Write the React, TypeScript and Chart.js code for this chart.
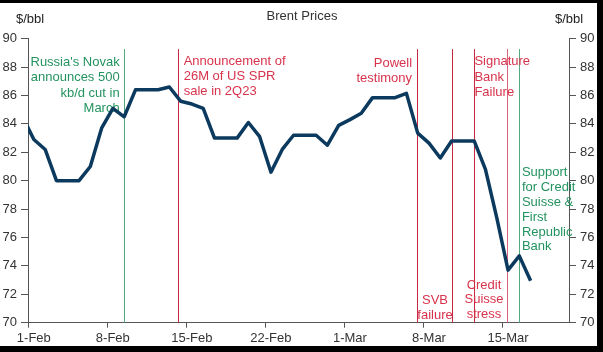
import React, { useEffect, useRef } from "react";
import { Chart, registerables } from "chart.js";

Chart.register(...registerables);

// ---- data ----
const dates = [
  "2023-01-31", "2023-02-01", "2023-02-02", "2023-02-03", "2023-02-04", "2023-02-05",
  "2023-02-06", "2023-02-07", "2023-02-08", "2023-02-09", "2023-02-10", "2023-02-11",
  "2023-02-12", "2023-02-13", "2023-02-14", "2023-02-15", "2023-02-16", "2023-02-17",
  "2023-02-18", "2023-02-19", "2023-02-20", "2023-02-21", "2023-02-22", "2023-02-23",
  "2023-02-24", "2023-02-25", "2023-02-26", "2023-02-27", "2023-02-28", "2023-03-01",
  "2023-03-02", "2023-03-03", "2023-03-04", "2023-03-05", "2023-03-06", "2023-03-07",
  "2023-03-08", "2023-03-09", "2023-03-10", "2023-03-11", "2023-03-12", "2023-03-13",
  "2023-03-14", "2023-03-15", "2023-03-16", "2023-03-17",
];
const brent = [
  84.5, 82.9, 82.2, 80.0, 80.0, 80.0,
  81.0, 83.7, 85.1, 84.5, 86.4, 86.4,
  86.4, 86.6, 85.6, 85.4, 85.1, 83.0,
  83.0, 83.0, 84.1, 83.1, 80.6, 82.2,
  83.2, 83.2, 83.2, 82.5, 83.9, 84.3,
  84.75, 85.85, 85.85, 85.85, 86.15, 83.35,
  82.65, 81.6, 82.8, 82.8, 82.8, 80.8,
  77.4, 73.7, 74.7, 72.95,
];
const tickDates = ["2023-02-01", "2023-02-08", "2023-02-15", "2023-02-22", "2023-03-01", "2023-03-08", "2023-03-15"];
const tickLabels = ["1-Feb", "8-Feb", "15-Feb", "22-Feb", "1-Mar", "8-Mar", "15-Mar"];
const yMin = 70;
const yMax = 90;
const yStep = 2;

// event markers: day offset from 1-Feb
const eventDays = [8.0, 12.8, 33.9, 37.05, 39.0, 41.9, 43.0];
const eventKinds = ["green", "red", "red", "red", "red", "pink", "green"];

const noteTexts = [
  ["Russia's Novak", "announces 500", "kb/d cut in", "March"],
  ["Announcement of", "26M of US SPR", "sale in 2Q23"],
  ["Powell", "testimony"],
  ["Signature", "Bank", "Failure"],
  ["SVB", "failure"],
  ["Credit", "Suisse", "stress"],
  ["Support", "for Credit", "Suisse &", "First", "Republic", "Bank"],
];

// ---- layout / style ----
const noteLayout = [
  { x: 7.6, y: 88.36, align: "right", lh: 15.5, kind: "green" },
  { x: 13.27, y: 88.38, align: "left", lh: 15, kind: "red" },
  { x: 33.5, y: 88.27, align: "right", lh: 15, kind: "red" },
  { x: 39.02, y: 88.38, align: "left", lh: 15.3, kind: "red" },
  { x: 35.53, y: 71.55, align: "center", lh: 14.5, kind: "red" },
  { x: 39.87, y: 72.65, align: "center", lh: 14.7, kind: "red" },
  { x: 43.23, y: 80.56, align: "left", lh: 14.8, kind: "green" },
];

const FONT = '"Liberation Sans", Arial, Helvetica, sans-serif';
const LINE_COLOR = "#0c3a5e";
const AXIS_COLOR = "#555555";
const TEXT_COLOR = "#333333";
const GREEN_LINE = "#52ab80";
const GREEN_TEXT = "#23935f";
const RED_LINE = "#c8283f";
const PINK_LINE = "#d9637a";
const RED_TEXT = "#d8334c";

const day0 = Date.parse("2023-02-01T00:00:00Z");
const dayOf = (s: string) => (Date.parse(s + "T00:00:00Z") - day0) / 86400000;

const W = 603;
const H = 352;

export default function App() {
  const ref = useRef<HTMLCanvasElement | null>(null);

  useEffect(() => {
    document.body.style.margin = "0";
    const canvas = ref.current;
    if (!canvas) return;

    const points = dates.map((d, i) => ({ x: dayOf(d), y: brent[i] }));

    const bgPlugin = {
      id: "bg",
      beforeDraw(chart: any) {
        const ctx = chart.ctx;
        ctx.save();
        ctx.fillStyle = "#ffffff";
        ctx.fillRect(0, 0, chart.width, chart.height);
        ctx.restore();
      },
    };

    const annoPlugin = {
      id: "anno",
      beforeDatasetsDraw(chart: any) {
        const ctx = chart.ctx;
        const xs = chart.scales.x;
        const ys = chart.scales.y;
        ctx.save();
        // vertical event lines
        eventDays.forEach((d, i) => {
          const px = Math.round(xs.getPixelForValue(d)) + 0.5;
          const top = ys.getPixelForValue(89.27);
          const bottom = ys.getPixelForValue(yMin);
          const k = eventKinds[i];
          ctx.strokeStyle = k === "green" ? GREEN_LINE : k === "pink" ? PINK_LINE : RED_LINE;
          ctx.lineWidth = 1;
          ctx.beginPath();
          ctx.moveTo(px, top);
          ctx.lineTo(px, bottom);
          ctx.stroke();
        });
        // notes
        ctx.font = `13px ${FONT}`;
        ctx.textBaseline = "middle";
        noteTexts.forEach((lines, i) => {
          const l = noteLayout[i];
          const px = xs.getPixelForValue(l.x);
          const py = ys.getPixelForValue(l.y);
          ctx.fillStyle = l.kind === "green" ? GREEN_TEXT : RED_TEXT;
          ctx.textAlign = l.align as CanvasTextAlign;
          lines.forEach((t, j) => ctx.fillText(t, px, py + j * l.lh));
        });
        ctx.restore();
      },
      afterDraw(chart: any) {
        const ctx = chart.ctx;
        ctx.save();
        ctx.font = `13px ${FONT}`;
        ctx.fillStyle = TEXT_COLOR;
        ctx.textBaseline = "middle";
        ctx.textAlign = "center";
        ctx.fillText("Brent Prices", 302, 16);
        ctx.fillStyle = "#222222";
        ctx.textAlign = "left";
        ctx.fillText("$/bbl", 16, 19.5);
        ctx.fillText("$/bbl", 555, 19.5);
        // screenshot frame
        ctx.fillStyle = "#000000";
        ctx.fillRect(0, 0, W, 3);
        ctx.fillRect(597, 0, W - 597, H);
        ctx.fillRect(0, 346, W, H - 346);
        ctx.restore();
      },
    };

    const yAxisCommon = {
      type: "linear" as const,
      min: yMin,
      max: yMax,
      ticks: { stepSize: yStep, padding: 4, color: TEXT_COLOR, font: { size: 13, family: FONT } },
      grid: { display: true, drawOnChartArea: false, drawTicks: true, tickLength: 7, color: AXIS_COLOR },
      border: { display: true, color: AXIS_COLOR, width: 1 },
    };

    const chart = new Chart(canvas, {
      type: "line",
      data: {
        datasets: [
          {
            data: points,
            borderColor: LINE_COLOR,
            borderWidth: 3.5,
            pointRadius: 0,
            tension: 0,
            fill: false,
            clip: 0,
            borderJoinStyle: "round",
          } as any,
        ],
      },
      options: {
        animation: false,
        responsive: false,
        maintainAspectRatio: false,
        devicePixelRatio: 1,
        layout: { padding: { top: 38.7, left: 0, right: 0, bottom: 0 } },
        plugins: { legend: { display: false }, tooltip: { enabled: false }, title: { display: false } },
        scales: {
          x: {
            type: "linear",
            min: -0.52,
            max: 47.4,
            afterBuildTicks: (axis: any) => {
              axis.ticks = tickDates.map((d) => ({ value: dayOf(d) - 0.5 }));
            },
            afterFit: (axis: any) => {
              axis.height = H - 322.7;
            },
            ticks: {
              autoSkip: false,
              maxRotation: 0,
              minRotation: 0,
              padding: 3,
              labelOffset: 5.6,
              color: TEXT_COLOR,
              font: { size: 13, family: FONT },
              callback: (_v: any, i: number) => tickLabels[i],
            },
            grid: { display: true, drawOnChartArea: false, drawTicks: true, tickLength: 5, color: AXIS_COLOR },
            border: { display: true, color: AXIS_COLOR, width: 1 },
          },
          y: {
            ...yAxisCommon,
            position: "left",
            afterFit: (axis: any) => {
              axis.width = 28;
            },
          },
          y2: {
            ...yAxisCommon,
            position: "right",
            afterFit: (axis: any) => {
              axis.width = W - 569;
            },
          },
        } as any,
      },
      plugins: [bgPlugin, annoPlugin],
    });

    return () => chart.destroy();
  }, []);

  return (
    <div style={{ position: "fixed", left: 0, top: 0, width: W, height: H }}>
      <canvas ref={ref} width={W} height={H} style={{ display: "block", width: W, height: H }} />
    </div>
  );
}
